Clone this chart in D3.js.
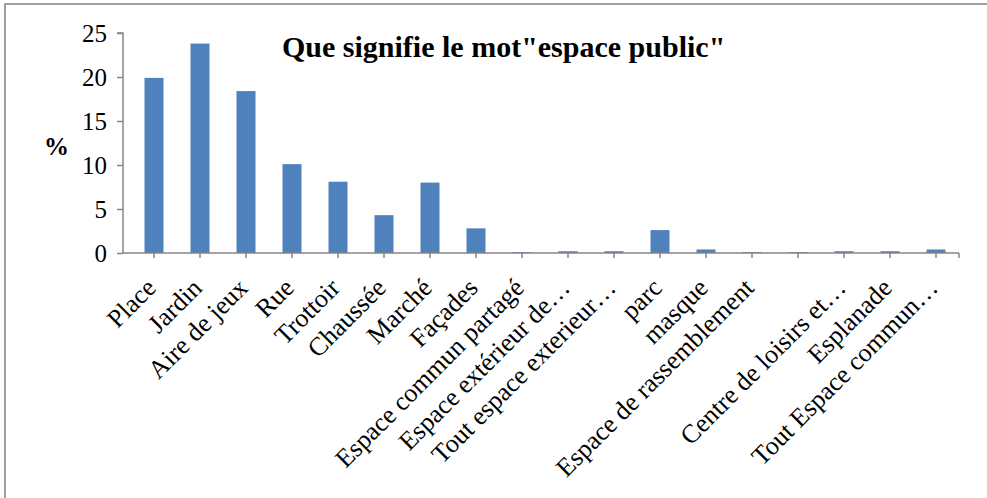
<!DOCTYPE html>
<html><head><meta charset="utf-8">
<script src="https://cdn.jsdelivr.net/npm/d3@7"></script>
<style>body{margin:0;background:#fff}svg{display:block}</style>
</head><body>
<script>
const categories = ["Place","Jardin","Aire de jeux","Rue","Trottoir","Chaussée","Marché","Façades","Espace commun partagé","Espace extérieur de…","Tout espace exterieur…","parc","masque","Espace de rassemblement","","Centre de loisirs et…","Esplanade","Tout Espace commun…"];
const values = [19.9,23.8,18.4,10.1,8.1,4.3,8.0,2.8,0.1,0.2,0.2,2.6,0.4,0.1,0.1,0.2,0.2,0.4];
const yTicks = [0,5,10,15,20,25];
const title = "Que signifie le mot\"espace public\"";
const yLabel = "%";

const W = 987, H = 498;
const svg = d3.select("body").append("svg").attr("width", W).attr("height", H);
const font = "'Liberation Serif','Times New Roman',serif";

svg.append("rect").attr("x",5).attr("y",4).attr("width",990).attr("height",600)
  .attr("fill","none").attr("stroke","#a0a0a0").attr("stroke-width",2);

const x0 = 123, x1 = 959, y0 = 253, yTop = 33;
const step = 46;
const xc = d3.scalePoint().domain(d3.range(categories.length)).range([154, 154 + step*(categories.length-1)]);
const y = d3.scaleLinear().domain([0,25]).range([y0, yTop]);

// bars
svg.append("g").selectAll("rect").data(values).join("rect")
  .attr("x",(d,i)=>xc(i)-9.5).attr("width",19)
  .attr("y",d=>y(d)).attr("height",d=>y0-y(d))
  .attr("fill","#4f81bd");

// y axis
const ya = svg.append("g").attr("transform",`translate(${x0},0)`)
  .call(d3.axisLeft(y).tickValues(yTicks).tickSize(6).tickPadding(10));
ya.attr("font-family",font);
ya.select(".domain").attr("stroke","#868686").attr("stroke-width",1.5).attr("d",`M-6,${yTop}H0V${y0}`);
ya.selectAll(".tick line").attr("stroke","#868686").attr("stroke-width",1.5);
ya.selectAll(".tick text").attr("font-family",font).attr("font-size",25).attr("fill","#000");

// x axis
svg.append("line").attr("x1",x0).attr("x2",x1).attr("y1",y0).attr("y2",y0)
  .attr("stroke","#868686").attr("stroke-width",1.5);
const tickPos = d3.range(categories.length).map(i=>xc(i)).concat([x1]);
svg.append("g").selectAll("line").data(tickPos).join("line")
  .attr("x1",d=>d).attr("x2",d=>d).attr("y1",y0).attr("y2",y0+5)
  .attr("stroke","#868686").attr("stroke-width",1.5);

svg.append("g").selectAll("text").data(categories).join("text")
  .attr("transform",(d,i)=>`translate(${xc(i)-3},${y0+30}) rotate(-45)`)
  .attr("text-anchor","end").attr("dy","0.35em")
  .attr("font-family",font).attr("font-size",26).attr("fill","#000")
  .text(d=>d);

svg.append("text").attr("x",282).attr("y",57).attr("font-family",font)
  .attr("font-weight","bold").attr("font-size",30).attr("fill","#000").text(title);

svg.append("text").attr("x",44).attr("y",155).attr("font-family",font)
  .attr("font-weight","bold").attr("font-size",25).attr("fill","#000").text(yLabel);
</script>
</body></html>
